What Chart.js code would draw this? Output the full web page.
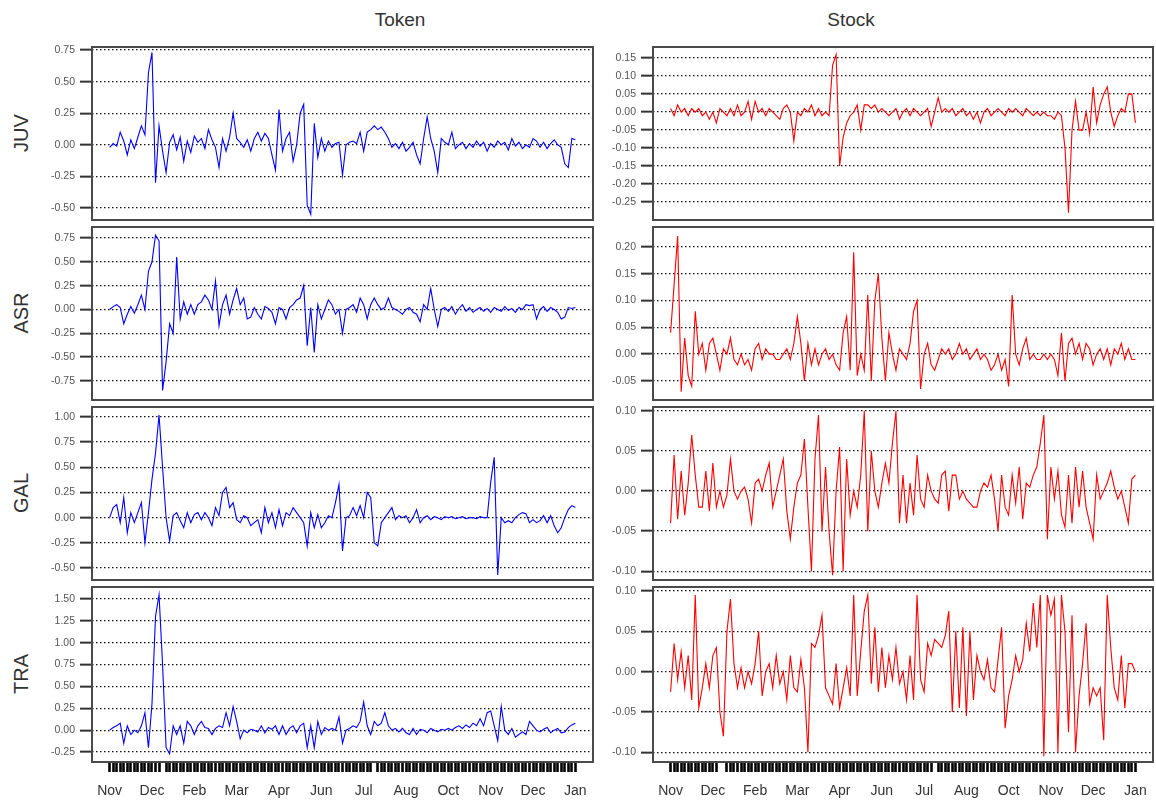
<!DOCTYPE html>
<html lang="en">
<head>
  <meta charset="UTF-8" />
  <title>Token vs Stock returns</title>
  <script src="https://cdn.jsdelivr.net/npm/chart.js"></script>
  <style>
    html, body {
      margin: 0;
      padding: 0;
      width: 1156px;
      height: 805px;
      overflow: hidden;
      background: #fff;
    }
    body {
      position: relative;
      font-family: 'Liberation Sans', Arial, sans-serif;
    }
    canvas { position: absolute; }
    .col-title {
      position: absolute;
      top: 9px;
      font-size: 19px;
      color: #333;
      transform: translateX(-50%);
    }
    .row-label {
      position: absolute;
      font-size: 20px;
      color: #333;
      transform: translate(-50%, -50%) rotate(-90deg);
    }
  </style>
</head>
<body>
  <div class="col-title" style="left:400px">Token</div>
  <div class="col-title" style="left:851px">Stock</div>
  <div class="row-label" style="left:21px; top:133px">JUV</div>
  <div class="row-label" style="left:21px; top:313px">ASR</div>
  <div class="row-label" style="left:21px; top:493px">GAL</div>
  <div class="row-label" style="left:21px; top:674px">TRA</div>

  <script>
    // month labels sit every 12 observations
    const monthLabels = ['Nov', 'Dec', 'Feb', 'Mar', 'Apr', 'Jun', 'Jul', 'Aug', 'Oct', 'Nov', 'Dec', 'Jan'];
    const monthIdx = [0, 12, 24, 36, 48, 60, 72, 84, 96, 108, 120, 132];
    const tickGapsToken = [15, 75];
    const tickGapsStock = [14, 15, 75];

    // token returns (left column)
    const tokenJUV = [
      -0.02, 0.01, -0.01, 0.10, 0.03, -0.08, 0.04, -0.03, 0.06, 0.15, 0.08, 0.57,
      0.73, -0.30, 0.15, -0.05, -0.22, 0.02, 0.08, -0.04, 0.06, -0.13, 0.03, -0.06,
      0.07, 0.02, 0.05, -0.03, 0.12, 0.04, -0.02, -0.18, 0.05, -0.05, 0.06, 0.25,
      0.05, 0.02, -0.02, 0.04, -0.05, 0.05, 0.10, 0.03, 0.09, 0.05, -0.08, -0.20,
      0.28, -0.05, 0.05, 0.10, -0.13, 0.00, 0.25, 0.32, -0.48, -0.55, 0.17, -0.10,
      0.05, -0.05, 0.03, -0.02, 0.01, 0.02, -0.24, 0.00, 0.02, 0.03, 0.01, 0.10,
      -0.05, 0.10, 0.12, 0.15, 0.12, 0.14, 0.10, 0.05, -0.02, 0.01, -0.03, 0.02,
      -0.05, -0.02, 0.02, -0.08, -0.15, 0.05, 0.22, 0.05, -0.05, -0.22, 0.05, 0.02,
      0.00, 0.10, -0.03, 0.00, 0.02, -0.03, 0.01, -0.02, 0.03, -0.01, 0.02, -0.05,
      0.01, -0.02, 0.03, 0.00, 0.02, -0.04, 0.05, -0.01, 0.02, -0.03, 0.00, -0.02,
      0.05, 0.03, -0.02, 0.02, -0.03, 0.01, 0.04, 0.00, -0.02, -0.15, -0.18, 0.05, 0.04
    ];
    const tokenASR = [
      0.00, 0.03, 0.05, 0.02, -0.15, -0.05, 0.03, -0.04, 0.05, 0.15, 0.00, 0.40,
      0.50, 0.78, 0.72, -0.85, -0.55, -0.15, -0.25, 0.55, -0.10, 0.08, -0.05, 0.05,
      -0.05, 0.05, 0.08, 0.15, 0.10, 0.00, 0.30, -0.17, 0.05, 0.15, -0.05, 0.10,
      0.22, 0.05, 0.12, -0.10, -0.08, 0.02, -0.05, -0.10, 0.03, 0.01, -0.03, -0.15,
      0.02, 0.00, -0.10, 0.02, 0.05, 0.10, 0.12, 0.25, -0.38, 0.02, -0.45, 0.05,
      -0.10, 0.00, 0.10, 0.05, -0.05, 0.00, -0.25, 0.00, 0.02, 0.05, -0.03, 0.12,
      0.05, -0.10, 0.05, 0.12, 0.05, 0.00, 0.02, 0.12, 0.02, 0.00, -0.02, -0.05,
      0.00, 0.02, -0.03, -0.05, -0.13, 0.05, 0.00, 0.22, 0.00, -0.18, 0.00, 0.02,
      -0.02, 0.03, -0.05, 0.01, 0.05, -0.02, 0.02, -0.03, 0.00, 0.02, -0.02, 0.01,
      -0.03, 0.02, 0.00, -0.02, 0.03, -0.01, 0.01, -0.03, 0.02, 0.00, 0.05, 0.04,
      0.05, -0.10, 0.00, 0.03, -0.02, 0.02, 0.00, -0.03, -0.10, -0.08, 0.02, 0.01, 0.02
    ];
    const tokenGAL = [
      0.00, 0.10, 0.13, -0.05, 0.20, -0.15, 0.05, -0.05, 0.05, 0.15, -0.25, 0.05,
      0.38, 0.64, 1.02, 0.50, 0.00, -0.23, 0.02, 0.05, -0.03, -0.10, 0.05, -0.05,
      0.03, 0.05, -0.02, 0.05, 0.00, -0.08, 0.10, 0.02, 0.25, 0.30, 0.10, 0.15,
      -0.02, -0.05, 0.02, 0.00, -0.08, -0.05, -0.02, -0.15, 0.10, -0.05, 0.05, -0.10,
      0.08, -0.08, 0.05, 0.02, 0.10, 0.05, 0.00, -0.05, -0.28, 0.05, -0.10, 0.03,
      -0.10, -0.05, 0.02, 0.00, 0.15, 0.33, -0.33, 0.00, 0.02, 0.10, 0.02, 0.12,
      0.00, 0.25, 0.20, -0.25, -0.28, -0.05, 0.00, 0.05, 0.10, -0.02, 0.02, 0.00,
      0.02, -0.05, 0.00, 0.08, -0.05, 0.00, 0.02, -0.02, 0.01, 0.00, -0.02, 0.01,
      0.00, 0.01, -0.01, 0.00, 0.01, -0.01, 0.00, 0.00, -0.01, 0.01, 0.00, 0.00,
      0.35, 0.60, -0.57, 0.00, -0.05, -0.03, -0.05, 0.00, 0.03, 0.05, 0.04, -0.05,
      -0.02, -0.05, -0.03, 0.02, -0.05, 0.02, -0.08, -0.15, -0.10, 0.00, 0.08, 0.12, 0.10
    ];
    const tokenTRA = [
      0.00, 0.03, 0.05, 0.08, -0.15, 0.05, -0.05, 0.00, -0.03, 0.05, 0.20, -0.20,
      0.30, 1.30, 1.55, 0.75, -0.20, -0.27, 0.05, -0.05, 0.05, -0.15, 0.10, 0.05,
      -0.05, 0.05, 0.10, 0.03, 0.02, -0.05, 0.02, 0.05, 0.03, 0.20, 0.05, 0.27,
      0.10, -0.10, 0.00, -0.03, 0.01, 0.00, -0.02, 0.05, -0.03, 0.03, 0.01, 0.05,
      -0.05, 0.05, -0.05, 0.02, 0.05, -0.03, 0.05, 0.08, -0.20, 0.05, -0.20, 0.10,
      -0.05, 0.03, 0.00, 0.02, 0.00, 0.15, -0.15, 0.00, 0.02, 0.05, 0.03, 0.10,
      0.32, 0.05, -0.05, 0.10, 0.05, 0.08, 0.20, 0.05, 0.00, 0.02, -0.02, 0.02,
      -0.03, -0.05, 0.02, -0.05, 0.01, 0.00, -0.03, 0.02, 0.00, -0.02, 0.01, 0.00,
      0.02, 0.00, 0.03, 0.05, 0.02, 0.06, 0.03, 0.08, 0.05, 0.13, 0.05, 0.20,
      0.22, 0.05, -0.12, 0.27, 0.00, -0.05, 0.02, -0.08, -0.05, -0.02, -0.05, 0.10,
      0.05, 0.00, -0.02, 0.01, 0.03, -0.03, 0.00, 0.02, -0.03, -0.02, 0.03, 0.06, 0.08
    ];

    // stock returns (right column)
    const stockJUV = [
      0.01, -0.01, 0.02, 0.00, 0.01, -0.01, 0.01, 0.00, 0.01, -0.01, 0.00, -0.02,
      0.00, -0.03, 0.01, 0.00, -0.01, 0.01, -0.01, 0.02, -0.01, 0.00, 0.03, -0.02,
      0.03, 0.00, 0.01, -0.01, 0.01, 0.00, -0.01, -0.02, 0.01, 0.02, 0.00, -0.08,
      0.00, -0.01, 0.01, 0.00, 0.02, -0.01, 0.01, -0.01, 0.00, -0.01, 0.13, 0.16,
      -0.15, -0.07, -0.03, -0.01, 0.00, 0.02, -0.05, 0.02, 0.02, 0.01, 0.02, 0.00,
      0.01, 0.00, -0.01, 0.00, 0.01, -0.02, 0.00, 0.01, -0.01, 0.01, 0.00, -0.01,
      0.00, 0.01, -0.04, 0.00, 0.04, 0.00, 0.01, 0.00, 0.01, -0.01, 0.00, 0.01,
      -0.01, 0.00, -0.02, 0.00, -0.03, 0.00, 0.01, -0.01, 0.00, 0.01, 0.00, -0.01,
      0.01, 0.00, 0.01, 0.00, -0.01, 0.01, 0.00, -0.01, 0.00, -0.01, 0.00, -0.01,
      -0.01, -0.02, 0.00, -0.01, -0.10, -0.28, -0.05, 0.03, -0.05, -0.05, 0.00, -0.06,
      0.07, -0.03, 0.02, 0.05, 0.07, 0.00, -0.04, -0.01, 0.01, 0.00, 0.05, 0.05, -0.03
    ];
    const stockASR = [
      0.04, 0.13, 0.22, -0.07, 0.03, -0.04, -0.06, 0.08, 0.00, 0.02, -0.03, 0.02,
      0.03, 0.00, -0.03, 0.01, 0.00, 0.03, -0.01, -0.02, 0.00, -0.02, -0.01, -0.03,
      0.01, 0.02, -0.01, 0.01, 0.00, 0.00, -0.01, -0.01, 0.00, 0.01, -0.01, 0.02,
      0.07, 0.02, -0.05, 0.02, -0.02, 0.01, -0.02, 0.00, 0.01, -0.01, 0.00, -0.02,
      -0.03, 0.04, 0.07, -0.03, 0.19, -0.04, 0.00, -0.03, 0.11, -0.05, 0.10, 0.15,
      0.03, -0.05, 0.04, 0.00, -0.03, 0.01, 0.00, -0.01, 0.02, 0.08, 0.10, -0.065,
      0.00, 0.02, -0.02, -0.03, -0.01, 0.01, 0.00, 0.01, -0.01, 0.00, 0.02, 0.00,
      0.01, -0.01, 0.00, 0.01, -0.01, 0.00, -0.01, -0.03, -0.02, 0.00, -0.03, -0.01,
      -0.06, 0.11, 0.00, -0.02, 0.01, 0.03, -0.01, 0.00, -0.01, -0.01, 0.00, -0.01,
      0.00, -0.01, -0.04, 0.04, -0.05, 0.02, 0.03, 0.00, 0.02, -0.01, 0.02, 0.01,
      -0.02, 0.00, 0.01, -0.01, 0.01, -0.02, 0.01, 0.00, 0.02, -0.01, 0.01, -0.01, -0.01
    ];
    const stockGAL = [
      -0.04, 0.045, -0.035, 0.025, -0.03, 0.01, 0.07, 0.02, -0.02, -0.02, 0.025, -0.025,
      0.035, -0.02, 0.00, -0.02, -0.005, 0.04, 0.00, -0.01, 0.00, 0.005, -0.01, -0.04,
      0.01, 0.015, 0.00, 0.02, 0.035, -0.02, 0.00, 0.02, 0.04, -0.025, -0.06, -0.02,
      0.01, 0.02, 0.065, -0.02, -0.10, 0.04, 0.095, -0.05, 0.03, -0.05, -0.105, 0.00,
      0.055, -0.10, 0.04, -0.03, 0.00, -0.02, 0.02, 0.10, -0.05, 0.05, 0.00, -0.02,
      0.01, 0.035, 0.01, 0.06, 0.10, -0.04, 0.02, -0.04, 0.01, -0.03, 0.045, -0.01,
      -0.02, 0.02, 0.00, -0.01, -0.015, 0.02, 0.025, -0.025, 0.02, 0.02, -0.01, 0.00,
      -0.01, -0.015, -0.02, -0.02, 0.00, 0.01, 0.005, 0.02, -0.01, -0.05, 0.02, -0.02,
      -0.03, 0.02, -0.015, 0.03, -0.035, 0.01, 0.005, 0.02, 0.03, 0.06, 0.095, -0.06,
      0.03, -0.01, 0.025, -0.03, -0.045, 0.02, -0.04, 0.03, -0.02, 0.025, -0.02, -0.04,
      -0.06, 0.02, -0.01, 0.00, 0.01, 0.025, 0.005, -0.01, 0.00, -0.02, -0.04, 0.015, 0.02
    ];
    const stockTRA = [
      -0.025, 0.035, -0.01, 0.025, -0.02, 0.02, -0.035, 0.095, -0.045, -0.02, 0.01, -0.02,
      0.02, 0.03, -0.05, -0.08, 0.05, 0.09, 0.01, -0.02, 0.005, -0.02, 0.00, -0.015,
      0.01, 0.05, -0.03, 0.00, 0.01, -0.02, 0.02, -0.015, 0.00, -0.035, 0.02, -0.02,
      -0.025, 0.015, -0.02, -0.10, 0.035, 0.03, 0.045, 0.07, -0.02, -0.03, -0.04, 0.01,
      -0.045, -0.02, 0.005, -0.03, 0.095, -0.03, 0.025, 0.075, 0.095, -0.015, 0.055, -0.025,
      0.03, -0.02, 0.02, -0.01, 0.03, -0.015, 0.00, -0.035, 0.02, -0.035, 0.095, -0.01,
      -0.025, 0.035, 0.02, 0.04, 0.035, 0.03, 0.045, 0.075, -0.05, 0.05, -0.045, 0.055,
      -0.055, 0.05, -0.035, 0.02, 0.00, -0.01, 0.015, -0.02, -0.025, 0.015, 0.055, -0.07,
      -0.03, -0.01, 0.02, 0.00, 0.015, 0.06, 0.025, 0.085, 0.03, 0.095, -0.105, 0.095,
      0.07, 0.09, -0.10, 0.095, 0.05, -0.075, 0.07, -0.10, -0.03, 0.01, 0.06, -0.04,
      -0.02, -0.03, -0.02, -0.085, 0.095, 0.03, -0.02, -0.035, 0.02, -0.045, 0.01, 0.01, 0.00
    ];

    // y tick values per panel
    const ticksTokenJUV = [-0.5, -0.25, 0, 0.25, 0.5, 0.75];
    const ticksTokenASR = [-0.75, -0.5, -0.25, 0, 0.25, 0.5, 0.75];
    const ticksTokenGAL = [-0.5, -0.25, 0, 0.25, 0.5, 0.75, 1.0];
    const ticksTokenTRA = [-0.25, 0, 0.25, 0.5, 0.75, 1.0, 1.25, 1.5];
    const ticksStockJUV = [-0.25, -0.2, -0.15, -0.1, -0.05, 0, 0.05, 0.1, 0.15];
    const ticksStockASR = [-0.05, 0, 0.05, 0.1, 0.15, 0.2];
    const ticksStockGAL = [-0.1, -0.05, 0, 0.05, 0.1];
    const ticksStockTRA = [-0.1, -0.05, 0, 0.05, 0.1];

    const obsIndex = tokenJUV.map((_, i) => i);
    const monthAt = {};
    monthIdx.forEach((idx, k) => { monthAt[idx] = monthLabels[k]; });

    Chart.defaults.font.family = "'Liberation Sans', Arial, sans-serif";
    Chart.defaults.animation = false;

    const AXW = 60;   // room for y tick labels + tick marks
    const PAD = 14;
    const RPAD = 10;
    const XAXH = 44;

    const panels = [
      { x: 92,  y: 47,  w: 501, h: 173, data: tokenJUV, color: '#0000ff', min: -0.595, max: 0.774, ticks: ticksTokenJUV, gaps: tickGapsToken },
      { x: 92,  y: 227, w: 501, h: 173, data: tokenASR, color: '#0000ff', min: -0.95,  max: 0.865, ticks: ticksTokenASR, gaps: tickGapsToken },
      { x: 92,  y: 407, w: 501, h: 173, data: tokenGAL, color: '#0000ff', min: -0.619, max: 1.099, ticks: ticksTokenGAL, gaps: tickGapsToken },
      { x: 92,  y: 587, w: 501, h: 175, data: tokenTRA, color: '#0000ff', min: -0.364, max: 1.637, ticks: ticksTokenTRA, gaps: tickGapsToken, showX: true },
      { x: 653, y: 47,  w: 500, h: 173, data: stockJUV, color: '#ff0000', min: -0.30,  max: 0.181, ticks: ticksStockJUV, gaps: tickGapsStock },
      { x: 653, y: 227, w: 500, h: 173, data: stockASR, color: '#ff0000', min: -0.0855, max: 0.237, ticks: ticksStockASR, gaps: tickGapsStock },
      { x: 653, y: 407, w: 500, h: 173, data: stockGAL, color: '#ff0000', min: -0.111, max: 0.105, ticks: ticksStockGAL, gaps: tickGapsStock },
      { x: 653, y: 587, w: 500, h: 175, data: stockTRA, color: '#ff0000', min: -0.112, max: 0.105, ticks: ticksStockTRA, gaps: tickGapsStock, showX: true }
    ];

    // grey frame round each plot area
    const panelFrame = {
      id: 'panelFrame',
      afterDraw(chart) {
        const { ctx, chartArea: a } = chart;
        ctx.save();
        ctx.strokeStyle = '#4a4a4a';
        ctx.lineWidth = 2;
        ctx.strokeRect(a.left, a.top, a.right - a.left, a.bottom - a.top);
        ctx.restore();
      }
    };

    panels.forEach(p => {
      const canvas = document.createElement('canvas');
      const bottomSpace = p.showX ? XAXH : PAD;
      canvas.width = AXW + p.w + RPAD;
      canvas.height = PAD + p.h + bottomSpace;
      canvas.style.left = (p.x - AXW) + 'px';
      canvas.style.top = (p.y - PAD) + 'px';
      document.body.appendChild(canvas);

      const xTicks = obsIndex.filter(i => !p.gaps.includes(i));

      new Chart(canvas, {
        type: 'line',
        data: {
          labels: obsIndex,
          datasets: [{
            data: p.data,
            borderColor: p.color,
            borderWidth: 1.1,
            pointRadius: 0,
            tension: 0,
            fill: false
          }]
        },
        options: {
          responsive: false,
          layout: { padding: { left: 0, right: RPAD, top: PAD, bottom: p.showX ? 0 : PAD } },
          plugins: { legend: { display: false }, tooltip: { enabled: false } },
          scales: {
            x: {
              type: 'linear',
              display: !!p.showX,
              bounds: 'data',
              min: -5,
              max: 137,
              afterBuildTicks: s => { s.ticks = xTicks.map(v => ({ value: v })); },
              afterFit: s => { s.height = p.showX ? XAXH : 0; },
              grid: { drawOnChartArea: false, drawTicks: true, tickLength: 10, tickWidth: 2.6, tickColor: '#000' },
              border: { display: false },
              ticks: {
                autoSkip: false,
                maxRotation: 0,
                padding: 11,
                color: '#333',
                font: { size: 14 },
                callback: v => monthAt[v] || ''
              }
            },
            y: {
              bounds: 'data',
              min: p.min,
              max: p.max,
              afterBuildTicks: s => { s.ticks = p.ticks.map(v => ({ value: v })); },
              afterFit: s => { s.width = AXW; },
              grid: { color: '#111', lineWidth: 1.3, drawTicks: true, tickLength: 12, tickWidth: 2, tickColor: '#333', tickBorderDash: [] },
              border: { display: false, dash: [1.5, 2.5] },
              ticks: {
                padding: 5,
                color: '#555',
                font: { size: 10.5 },
                callback: v => v.toFixed(2)
              }
            }
          }
        },
        plugins: [panelFrame]
      });
    });
  </script>
</body>
</html>
